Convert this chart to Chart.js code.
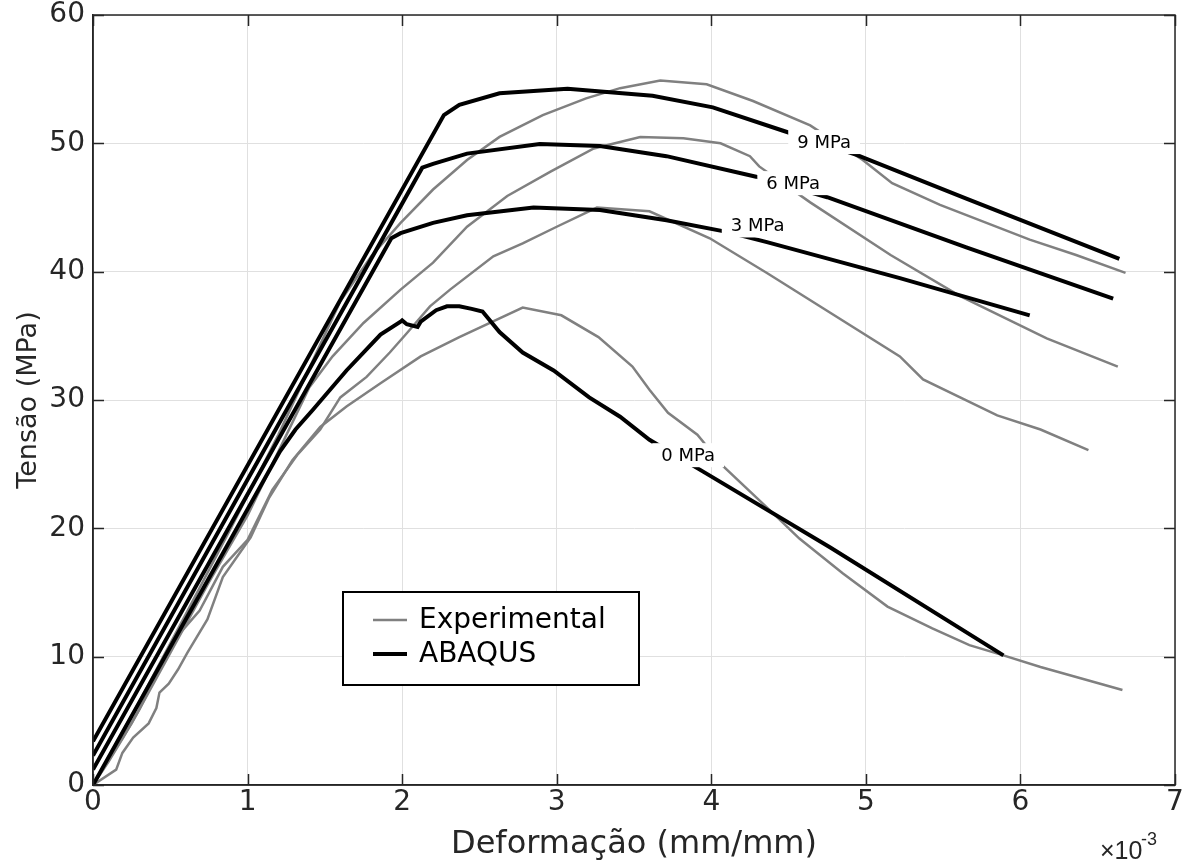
<!DOCTYPE html>
<html>
<head>
<meta charset="utf-8">
<script src="https://cdn.jsdelivr.net/npm/chart.js@4.4.1/dist/chart.umd.min.js"></script>
<style>
  body { margin: 0; background: #fff; }
</style>
</head>
<body>
<canvas id="stressChart" width="1187" height="864"></canvas>
<script>
// curvas tensão x deformação (deformação em 1e-3 mm/mm, tensão em MPa)
const abaqus0 = [[0,0],[0.6,12.9],[1.21,26.0],[1.31,27.7],[1.42,29.2],[1.64,32.3],[1.86,35.1],[1.99,36.1],[2.0,36.2],[2.03,35.9],[2.10,35.7],[2.12,36.1],[2.22,37.0],[2.29,37.3],[2.37,37.3],[2.45,37.1],[2.52,36.9],[2.63,35.3],[2.78,33.7],[2.98,32.3],[3.21,30.2],[3.41,28.7],[3.60,26.9],[3.95,24.4],[4.77,18.5],[5.89,10.1]];
const abaqus3 = [[0,1.2],[1.93,42.6],[1.99,43.0],[2.2,43.8],[2.42,44.4],[2.85,45.0],[3.28,44.8],[3.71,44.0],[4.10,43.1],[4.36,42.3],[5.22,39.5],[6.06,36.6]];
const abaqus6 = [[0,2.3],[2.13,48.1],[2.2,48.4],[2.42,49.2],[2.89,49.95],[3.28,49.8],[3.71,49.0],[4.29,47.4],[4.75,45.8],[5.65,41.9],[6.60,37.9]];
const abaqus9 = [[0,3.4],[2.27,52.2],[2.37,53.0],[2.63,53.9],[3.07,54.25],[3.62,53.7],[4.01,52.8],[4.46,51.0],[4.94,49.1],[5.65,45.7],[6.64,41.0]];

const exp0 = [[0,0],[0.15,1.2],[0.19,2.5],[0.26,3.7],[0.36,4.8],[0.41,6.0],[0.43,7.2],[0.49,7.9],[0.55,9.0],[0.61,10.3],[0.74,12.9],[0.84,16.2],[1.02,19.3],[1.14,22.4],[1.29,25.3],[1.47,27.9],[1.64,29.5],[1.86,31.3],[2.12,33.4],[2.37,34.9],[2.78,37.2],[3.03,36.6],[3.27,34.9],[3.49,32.6],[3.60,30.8],[3.72,29.0],[3.91,27.3],[4.08,24.8],[4.38,21.4],[4.57,19.2],[4.85,16.5],[5.14,13.9],[5.43,12.2],[5.67,10.9],[5.89,10.1],[6.13,9.2],[6.66,7.4]];
const exp3 = [[0,0],[0.1,1.8],[0.2,3.8],[0.3,5.9],[0.45,9.5],[0.56,11.8],[0.69,13.6],[0.84,17.0],[1.0,19.1],[1.16,23.0],[1.32,25.7],[1.47,27.7],[1.60,30.2],[1.77,31.8],[1.92,33.7],[2.03,35.2],[2.18,37.3],[2.31,38.6],[2.59,41.2],[2.78,42.2],[3.0,43.5],[3.26,45.0],[3.60,44.7],[3.99,42.6],[4.36,39.9],[5.22,33.4],[5.37,31.6],[5.85,28.8],[6.13,27.7],[6.44,26.1]];
const exp6 = [[0,0],[0.25,4.8],[0.5,10.3],[0.75,15.8],[1.0,21.0],[1.2,26.0],[1.40,31.0],[1.55,33.4],[1.75,36.0],[1.99,38.6],[2.20,40.7],[2.42,43.5],[2.68,45.9],[2.96,47.8],[3.24,49.6],[3.54,50.5],[3.82,50.4],[4.06,50.0],[4.25,49.0],[4.31,48.2],[4.64,45.4],[5.16,41.3],[5.61,38.1],[6.17,34.8],[6.63,32.6]];
const exp9 = [[0,0],[0.3,6.5],[0.6,13.3],[0.9,20.2],[1.2,27.3],[1.4,32.5],[1.6,37.7],[1.8,41.2],[1.99,43.8],[2.20,46.4],[2.42,48.7],[2.63,50.5],[2.91,52.2],[3.19,53.5],[3.41,54.3],[3.67,54.9],[3.97,54.6],[4.27,53.3],[4.64,51.4],[4.98,48.7],[5.17,46.9],[5.48,45.2],[6.06,42.5],[6.36,41.3],[6.68,39.9]];

// rótulos das curvas (confinamento)
const labelText = ["0 MPa", "3 MPa", "6 MPa", "9 MPa"];
const labelX = [3.85, 4.30, 4.53, 4.73];
const labelY = [25.7, 43.6, 46.9, 50.1];

const legendNames = ["Experimental", "ABAQUS"];

const TXT = "#262626";
const FONT = "DejaVu Sans";

const toXY = arr => arr.map(([x, y]) => ({ x, y }));
const curve = (arr, color, width) => ({
  data: toXY(arr),
  showLine: true,
  borderColor: color,
  borderWidth: width,
  pointRadius: 0,
  fill: false,
  tension: 0
});

// desenha moldura, ticks internos, rótulos e legenda estilo MATLAB
const matlabStyle = {
  id: "matlabStyle",
  afterDatasetsDraw(chart) {
    const { ctx, scales: { x, y } } = chart;
    ctx.save();
    ctx.font = `18px "${FONT}"`;
    ctx.textAlign = "center";
    ctx.textBaseline = "middle";
    labelText.forEach((t, i) => {
      const px = x.getPixelForValue(labelX[i]);
      const py = y.getPixelForValue(labelY[i]);
      const w = ctx.measureText(t).width + 18;
      ctx.fillStyle = "#fff";
      ctx.fillRect(px - w / 2, py - 12, w, 24);
      ctx.fillStyle = "#000";
      ctx.fillText(t, px, py + 1);
    });
    ctx.restore();
  },
  afterDraw(chart) {
    const { ctx, chartArea: a, scales: { x, y } } = chart;
    ctx.save();
    ctx.strokeStyle = TXT;
    ctx.lineWidth = 1.5;
    ctx.strokeRect(a.left, a.top, a.right - a.left, a.bottom - a.top);
    ctx.beginPath();
    x.ticks.forEach(t => {
      const px = Math.round(x.getPixelForValue(t.value)) + 0.5;
      ctx.moveTo(px, a.bottom); ctx.lineTo(px, a.bottom - 11);
      ctx.moveTo(px, a.top); ctx.lineTo(px, a.top + 11);
    });
    y.ticks.forEach(t => {
      const py = Math.round(y.getPixelForValue(t.value)) + 0.5;
      ctx.moveTo(a.left, py); ctx.lineTo(a.left + 11, py);
      ctx.moveTo(a.right, py); ctx.lineTo(a.right - 11, py);
    });
    ctx.stroke();

    // legenda
    const lx = a.left + 250, ly = a.top + 577, lw = 296, lh = 93;
    ctx.fillStyle = "#fff";
    ctx.fillRect(lx, ly, lw, lh);
    ctx.strokeStyle = "#000";
    ctx.lineWidth = 2;
    ctx.strokeRect(lx, ly, lw, lh);
    const colors = ["#808080", "#000"];
    const widths = [2.5, 4];
    ctx.font = `28px "${FONT}"`;
    ctx.textBaseline = "middle";
    legendNames.forEach((n, i) => {
      const yy = ly + 28 + i * 34;
      ctx.strokeStyle = colors[i];
      ctx.lineWidth = widths[i];
      ctx.beginPath();
      ctx.moveTo(lx + 30, yy); ctx.lineTo(lx + 64, yy);
      ctx.stroke();
      ctx.fillStyle = "#000";
      ctx.fillText(n, lx + 76, yy + 1);
    });

    // multiplicador do eixo x
    ctx.fillStyle = TXT;
    ctx.font = '25px "Liberation Sans"';
    ctx.textBaseline = "alphabetic";
    ctx.fillText("\u00d710", 1100, 859);
    ctx.font = '18px "Liberation Sans"';
    ctx.fillText("-3", 1141, 845);
    ctx.restore();
  }
};

new Chart(document.getElementById("stressChart"), {
  type: "scatter",
  data: {
    datasets: [
      curve(abaqus0, "#000", 4),
      curve(abaqus3, "#000", 4),
      curve(abaqus6, "#000", 4),
      curve(abaqus9, "#000", 4),
      curve(exp0, "#808080", 2.5),
      curve(exp3, "#808080", 2.5),
      curve(exp6, "#808080", 2.5),
      curve(exp9, "#808080", 2.5)
    ]
  },
  options: {
    responsive: false,
    animation: false,
    layout: { padding: { top: 15, right: 12, left: 0, bottom: 0 } },
    plugins: { legend: { display: false }, tooltip: { enabled: false } },
    scales: {
      x: {
        type: "linear", min: 0, max: 7,
        ticks: { stepSize: 1, color: TXT, font: { family: FONT, size: 28, lineHeight: 1 }, padding: 4 },
        grid: { color: "#e0e0e0", drawTicks: false },
        border: { color: TXT, width: 1.5 },
        title: { display: true, text: "Deformação (mm/mm)", color: TXT, font: { family: FONT, size: 32 }, padding: { bottom: 0 } },
        afterFit(s) { s.height = 79; s.paddingLeft = 0; s.paddingRight = 0; }
      },
      y: {
        min: 0, max: 60,
        ticks: { stepSize: 10, color: TXT, font: { family: FONT, size: 28, lineHeight: 1 }, padding: 8 },
        grid: { color: "#e0e0e0", drawTicks: false },
        border: { color: TXT, width: 1.5 },
        title: { display: true, text: "Tensão (MPa)", color: TXT, font: { family: FONT, size: 27 }, padding: { top: 13 } },
        afterFit(s) { s.width = 93; s.paddingTop = 0; s.paddingBottom = 0; }
      }
    }
  },
  plugins: [matlabStyle]
});
</script>
</body>
</html>
